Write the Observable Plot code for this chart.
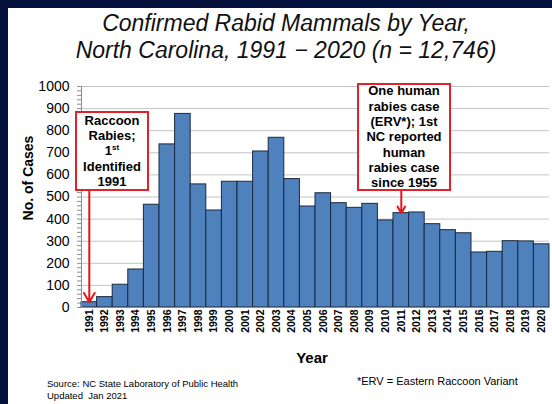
<!DOCTYPE html>
<html><head><meta charset="utf-8">
<script src="https://cdn.jsdelivr.net/npm/d3@7"></script>
<script src="https://cdn.jsdelivr.net/npm/@observablehq/plot@0.6"></script>
<style>
html,body{margin:0;padding:0;}
body{width:552px;height:404px;background:#03103c;position:relative;overflow:hidden;font-family:"Liberation Sans",Arial,sans-serif;color:#000;}
#panel{position:absolute;left:8px;top:8px;width:544px;height:396px;background:#fff;}
#chart{position:absolute;left:0;top:0;}
.title{position:absolute;left:0;width:572px;text-align:center;font-style:italic;font-size:23px;line-height:27px;top:10px;color:#111;}
.box{position:absolute;border:2px solid #e3212a;background:#fff;font-weight:bold;font-size:13px;line-height:15.3px;text-align:center;box-sizing:border-box;display:flex;flex-direction:column;justify-content:center;}
.box sup{font-size:8px;line-height:0;vertical-align:5px;}
.ylab{position:absolute;left:28px;top:178px;transform:translate(-50%,-50%) rotate(-90deg);font-weight:bold;font-size:14px;white-space:nowrap;}
.xlab{position:absolute;left:312px;top:357px;transform:translate(-50%,-50%);font-weight:bold;font-size:15px;}
.src{position:absolute;left:47px;top:378px;font-size:9.5px;line-height:12px;}
.erv{position:absolute;left:357px;top:375px;font-size:11px;}
</style></head>
<body>
<div id="panel"></div>
<div id="chart"></div>
<div class="title">Confirmed Rabid Mammals by Year,<br>North Carolina, 1991 − 2020 (n = 12,746)</div>
<div class="ylab">No. of Cases</div>
<div class="xlab">Year</div>
<div class="box" style="left:75px;top:111px;width:74px;height:80px;">Raccoon<br>Rabies;<br><span>1<sup>st</sup></span>Identified<br>1991</div>
<div class="box" style="left:357px;top:83px;width:94px;height:108px;">One human<br>rabies case<br>(ERV*); 1st<br>NC reported<br>human<br>rabies case<br>since 1955</div>
<div class="src">Source: NC State Laboratory of Public Health<br>Updated&nbsp; Jan 2021</div>
<div class="erv">*ERV = Eastern Raccoon Variant</div>
<script>
const years = [1991,1992,1993,1994,1995,1996,1997,1998,1999,2000,2001,2002,2003,2004,2005,2006,2007,2008,2009,2010,2011,2012,2013,2014,2015,2016,2017,2018,2019,2020];
const cases = [24,47,103,172,465,738,876,557,439,569,569,706,768,581,457,517,472,451,469,394,427,430,377,350,336,249,252,300,299,286];
const yTicks = [0,100,200,300,400,500,600,700,800,900,1000];
const yMinorTicks = d3.range(0, 1001, 20);
const noteYears = [1991, 2011];

const data = years.map((year, i) => ({year, cases: cases[i]}));
const notes = noteYears.map(year => ({year, cases: cases[years.indexOf(year)]}));

const chart = Plot.plot({
  width: 552, height: 404,
  marginTop: 86, marginBottom: 97, marginLeft: 81, marginRight: 3,
  style: {background: "transparent", fontFamily: "Liberation Sans, Arial, sans-serif", color: "#000"},
  x: {type: "band", domain: years, padding: 0, round: false, label: null},
  y: {domain: [0, 1000], label: null},
  marks: [
    Plot.gridY(yTicks, {stroke: "#c4c4c4", strokeOpacity: 1}),
    Plot.axisY(yMinorTicks, {tickSize: 4, tickFormat: () => "", stroke: "#8c8c8c", label: null}),
    Plot.axisY(yTicks, {tickSize: 0, tickPadding: 12, fontSize: 14, tickFormat: d => String(d), label: null}),
    Plot.barY(data, {x: "year", y: "cases", fill: "#4f81bd", stroke: "#1c2940", strokeWidth: 1}),
    Plot.ruleY([0], {stroke: "#8c8c8c"}),
    Plot.frame({anchor: "left", stroke: "#8c8c8c"}),
    Plot.axisX({tickRotate: -90, tickSize: 0, tickPadding: 2, fontSize: 10.5, fontWeight: "bold", tickFormat: d => String(d), label: null}),
    Plot.arrow(notes, {x: "year", y1: 530, y2: "cases", stroke: "#e8151b", strokeWidth: 2, headLength: 8})
  ]
});
document.getElementById("chart").appendChild(chart);
</script>
</body></html>
